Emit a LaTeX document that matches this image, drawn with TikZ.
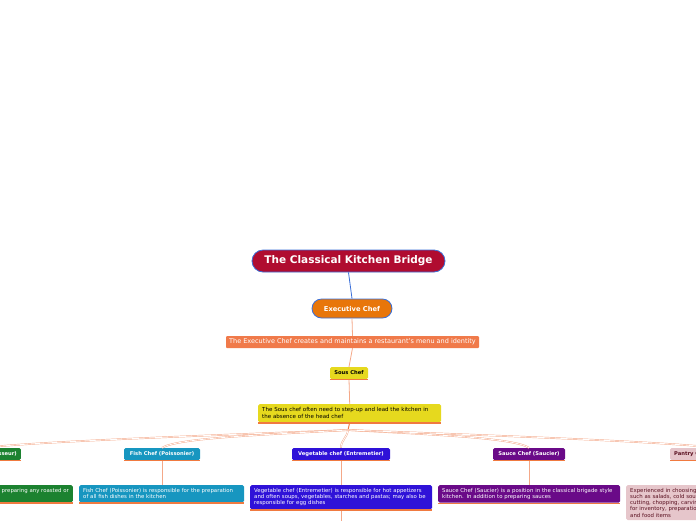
\documentclass[tikz,border=0pt]{standalone}
\usepackage{fontspec}
\setmainfont{DejaVu Sans}
\definecolor{titlered}{HTML}{B00C30}
\definecolor{edgeblue}{HTML}{3A6FD8}
\definecolor{execorange}{HTML}{E8760A}
\definecolor{execdesc}{HTML}{F07A4A}
\definecolor{sousyellow}{HTML}{E6D91E}
\definecolor{fishblue}{HTML}{1796C0}
\definecolor{vegblue}{HTML}{2F12D8}
\definecolor{saucepurple}{HTML}{6A0A88}
\definecolor{roastgreen}{HTML}{1C8230}
\definecolor{pantrypink}{HTML}{E6C6CB}
\definecolor{pantrytext}{HTML}{5A1020}
\definecolor{salmon}{HTML}{F4A888}
\definecolor{ulineorange}{HTML}{F07A40}
\tikzset{
  mainbox/.style={draw=edgeblue, line width=0.8pt, text=white, font=\bfseries\fontsize{10.5}{12}\selectfont, inner sep=0pt},
  hdr/.style={rounded corners=1.5pt, text=white, font=\bfseries\fontsize{5.2}{6}\selectfont, minimum height=12pt, inner xsep=4pt, inner ysep=0pt},
  desc/.style={rounded corners=1.5pt, text=white, font=\fontsize{5.4}{6.2}\selectfont, align=left, inner xsep=4pt, inner ysep=3pt, anchor=north west},
  uline/.style={draw=ulineorange, line width=1.1pt},
  conn/.style={draw=salmon, line width=0.8pt},
  branch/.style={draw=salmon, line width=0.45pt, double=white, double distance=0.8pt}
}
\begin{document}
\begin{tikzpicture}[x=1pt,y=-1pt]
\useasboundingbox (0,0) rectangle (696,520);
% central column
\node[mainbox, fill=titlered, rounded corners=11pt, minimum width=193pt, minimum height=22pt] (title) at (348.5,261) {The Classical Kitchen Bridge};
\node[mainbox, fill=execorange, rounded corners=9.5pt, minimum width=80pt, minimum height=19pt, font=\bfseries\fontsize{6.7}{8}\selectfont] (exec) at (352,308.5) {Executive Chef};
\node[fill=execdesc, rounded corners=1pt, minimum width=253pt, minimum height=12pt, inner sep=0pt, text=white, font=\fontsize{6.5}{7}\selectfont] (execd) at (352.5,342) {The Executive Chef creates and maintains a restaurant's menu and identity};
\node[hdr, fill=sousyellow, text=black, minimum width=38pt, inner xsep=0pt] (sous) at (349,373) {Sous Chef};
\node[desc, fill=sousyellow, text=black, text width=175pt, minimum height=18pt, font=\fontsize{5.5}{7}\selectfont] (sousd) at (258,404) {The Sous chef often need to step-up and lead the kitchen in\\the absence of the head chef};

\draw[edgeblue, line width=0.8pt] (title.south) -- (exec.north);
\draw[conn] (exec.south) -- (execd.north);
\draw[conn] (execd.south) -- (sous.north);
\draw[conn] (sous.south) -- (sousd.north);

% headers
\node[hdr, fill=roastgreen, anchor=east] (roasth) at (21,454) {Roast Chef (Rotisseur)};
\node[hdr, fill=fishblue, minimum width=76pt] (fishh) at (162,454) {Fish Chef (Poissonier)};
\node[hdr, fill=vegblue, minimum width=98pt] (vegh) at (341,454) {Vegetable chef (Entremetier)};
\node[hdr, fill=saucepurple, minimum width=72pt] (sauceh) at (529,454) {Sauce Chef (Saucier)};
\node[hdr, fill=pantrypink, text=pantrytext, anchor=west] (pantryh) at (670,454) {Pantry Chef (Garde Manger)};

% branches
\coordinate (root) at (348,430);
\draw[draw=ulineorange, line width=1pt] (sousd.south) -- (root);
\draw[branch] (root) .. controls (250,434) and (40,441) .. (roasth.north);
\draw[branch] (root) .. controls (260,435) and (178,438) .. (fishh.north);
\draw[branch] (root) .. controls (347,438) and (341,440) .. (vegh.north);
\draw[branch] (root) .. controls (440,435) and (514,438) .. (sauceh.north);
\draw[branch] (root) .. controls (450,434) and (660,441) .. (pantryh.north);

% descriptions
\node[desc, fill=roastgreen, anchor=north east, minimum height=17pt] (roastd) at (73,485) {Roast Chef (Rotisseur) is responsible for preparing any roasted or\\braised meats};
\node[desc, fill=fishblue, text width=157pt, minimum height=17pt] (fishd) at (79,485) {Fish Chef (Poissonier) is responsible for the preparation\\of all fish dishes in the kitchen};
\node[desc, fill=vegblue, text width=174pt, minimum height=24pt] (vegd) at (250,485) {Vegetable chef (Entremetier) is responsible for hot appetizers\\and often soups, vegetables, starches and pastas; may also be\\responsible for egg dishes};
\node[desc, fill=saucepurple, text width=174pt, minimum height=17pt] (sauced) at (438,485) {Sauce Chef (Saucier) is a position in the classical brigade style\\kitchen. In addition to preparing sauces};
\node[desc, fill=pantrypink, text=pantrytext, text width=172pt] (pantryd) at (626,485) {Experienced in choosing and preparing cold dishes\\such as salads, cold soups, p\^at\'es and terrines;\\cutting, chopping, carving; also responsible\\for inventory, preparation and storage of cold\\and food items};

\coordinate (vegend) at (341,530);
\draw[conn] (fishh.south) -- (fishd.north -| fishh.south);
\draw[conn] (vegh.south) -- (vegd.north -| vegh.south);
\draw[conn] (vegd.south -| vegh.south) -- (vegend);
\draw[conn] (sauceh.south) -- (sauced.north -| sauceh.south);

% underlines
\foreach \n in {sous,sousd,roasth,fishh,vegh,sauceh,pantryh,roastd,fishd,vegd,sauced}
  \draw[uline] ([yshift=-0.6pt]\n.south west) -- ([yshift=-0.6pt]\n.south east);
\end{tikzpicture}
\end{document}
